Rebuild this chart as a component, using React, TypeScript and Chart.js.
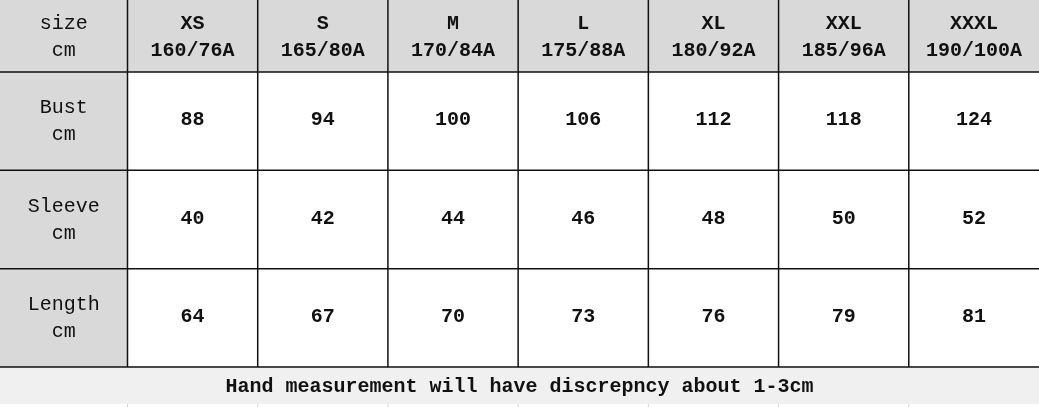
import { useEffect, useRef } from 'react'
import Chart from 'chart.js/auto'

const sizes = ['XS', 'S', 'M', 'L', 'XL', 'XXL', 'XXXL']
const sizeCodes = ['160/76A', '165/80A', '170/84A', '175/88A', '180/92A', '185/96A', '190/100A']
const rowNames = ['Bust', 'Sleeve', 'Length']
const bust = [88, 94, 100, 106, 112, 118, 124]
const sleeve = [40, 42, 44, 46, 48, 50, 52]
const length = [64, 67, 70, 73, 76, 79, 81]
const unit = 'cm'
const cornerLabel = 'size'
const note = 'Hand measurement will have discrepncy about 1-3cm'

const rowValues = [bust, sleeve, length]

const FONT = '"Liberation Mono", "DejaVu Sans Mono", monospace'
const FOOTER_H = 37

export default function App() {
  const canvasRef = useRef<HTMLCanvasElement>(null)
  const chartRef = useRef<Chart | null>(null)

  useEffect(() => {
    document.body.style.margin = '0'
    if (!canvasRef.current) return
    if (chartRef.current) {
      chartRef.current.destroy()
      chartRef.current = null
    }

    chartRef.current = new Chart(canvasRef.current, {
      type: 'scatter',
      data: {
        datasets: rowNames.map((name, r) => ({
          label: name,
          data: rowValues[r].map((v, i) => ({ x: sizes[i], y: name, v })) as any,
          pointRadius: 0,
          showLine: false,
        })),
      },
      options: {
        animation: false,
        responsive: true,
        maintainAspectRatio: false,
        events: [],
        layout: { padding: { left: 127.5, top: 72, right: 0, bottom: 40 } },
        plugins: {
          legend: { display: false },
          tooltip: { enabled: false },
        },
        scales: {
          x: { type: 'category', labels: sizes, offset: true, display: false },
          y: { type: 'category', labels: rowNames, offset: true, display: false },
        },
      },
      plugins: [
        {
          id: 'sizeTable',
          beforeDatasetsDraw(chart) {
            const { ctx, chartArea: a, scales, width, height } = chart
            const xs = scales.x
            const ys = scales.y
            const colW = xs.getPixelForValue(1) - xs.getPixelForValue(0)
            const rowH = ys.getPixelForValue(1) - ys.getPixelForValue(0)
            ctx.save()
            // cell fills
            ctx.fillStyle = '#ffffff'
            ctx.fillRect(0, 0, width, height)
            ctx.fillStyle = '#d9d9d9'
            ctx.fillRect(0, 0, width, a.top)
            ctx.fillRect(0, a.top, a.left, a.bottom - a.top)
            ctx.fillStyle = '#f0f0f0'
            ctx.fillRect(0, a.bottom, width, FOOTER_H)

            // faint cut-off lines below the note row
            ctx.strokeStyle = '#d6d6d6'
            ctx.lineWidth = 1
            ctx.beginPath()
            ctx.moveTo(a.left, a.bottom + FOOTER_H)
            ctx.lineTo(a.left, height)
            sizes.forEach((_, i) => {
              if (i === sizes.length - 1) return
              const px = xs.getPixelForValue(i) + colW / 2
              ctx.moveTo(px, a.bottom + FOOTER_H)
              ctx.lineTo(px, height)
            })
            ctx.stroke()

            // grid
            ctx.strokeStyle = '#111'
            ctx.lineWidth = 1.5
            ctx.beginPath()
            ctx.moveTo(0, a.top)
            ctx.lineTo(width, a.top)
            rowNames.forEach((_, r) => {
              const py = ys.getPixelForValue(r) + rowH / 2
              ctx.moveTo(0, py)
              ctx.lineTo(width, py)
            })
            ctx.moveTo(a.left, 0)
            ctx.lineTo(a.left, a.bottom)
            sizes.forEach((_, i) => {
              if (i === sizes.length - 1) return
              const px = xs.getPixelForValue(i) + colW / 2
              ctx.moveTo(px, 0)
              ctx.lineTo(px, a.bottom)
            })
            ctx.stroke()
            ctx.restore()
          },
          afterDatasetsDraw(chart) {
            const { ctx, chartArea: a, scales, width } = chart
            const xs = scales.x
            const ys = scales.y
            ctx.save()
            ctx.fillStyle = '#111'
            ctx.textAlign = 'center'
            ctx.textBaseline = 'middle'

            // header row
            const hc = a.top / 2
            ctx.font = `bold 20px ${FONT}`
            sizes.forEach((s, i) => {
              const px = xs.getPixelForValue(i)
              ctx.fillText(s, px, hc - 12)
              ctx.fillText(sizeCodes[i], px, hc + 15)
            })
            ctx.font = `20px ${FONT}`
            ctx.fillText(cornerLabel, a.left / 2, hc - 12)
            ctx.fillText(unit, a.left / 2, hc + 15)

            // row labels
            rowNames.forEach((name, r) => {
              const py = ys.getPixelForValue(r)
              ctx.fillText(name, a.left / 2, py - 13)
              ctx.fillText(unit, a.left / 2, py + 14)
            })

            // values
            ctx.font = `bold 20px ${FONT}`
            chart.data.datasets.forEach((ds, di) => {
              const meta = chart.getDatasetMeta(di)
              meta.data.forEach((el, j) => {
                const raw = ds.data[j] as any
                ctx.fillText(String(raw.v), el.x, el.y - 1)
              })
            })

            // note row
            ctx.font = `bold 20px ${FONT}`
            ctx.fillText(note, width / 2, a.bottom + FOOTER_H / 2 + 1)
            ctx.restore()
          },
        },
      ],
    })

    return () => {
      chartRef.current?.destroy()
      chartRef.current = null
    }
  }, [])

  return (
    <div style={{ width: 1039, height: 407, position: 'relative' }}>
      <canvas ref={canvasRef} />
    </div>
  )
}
